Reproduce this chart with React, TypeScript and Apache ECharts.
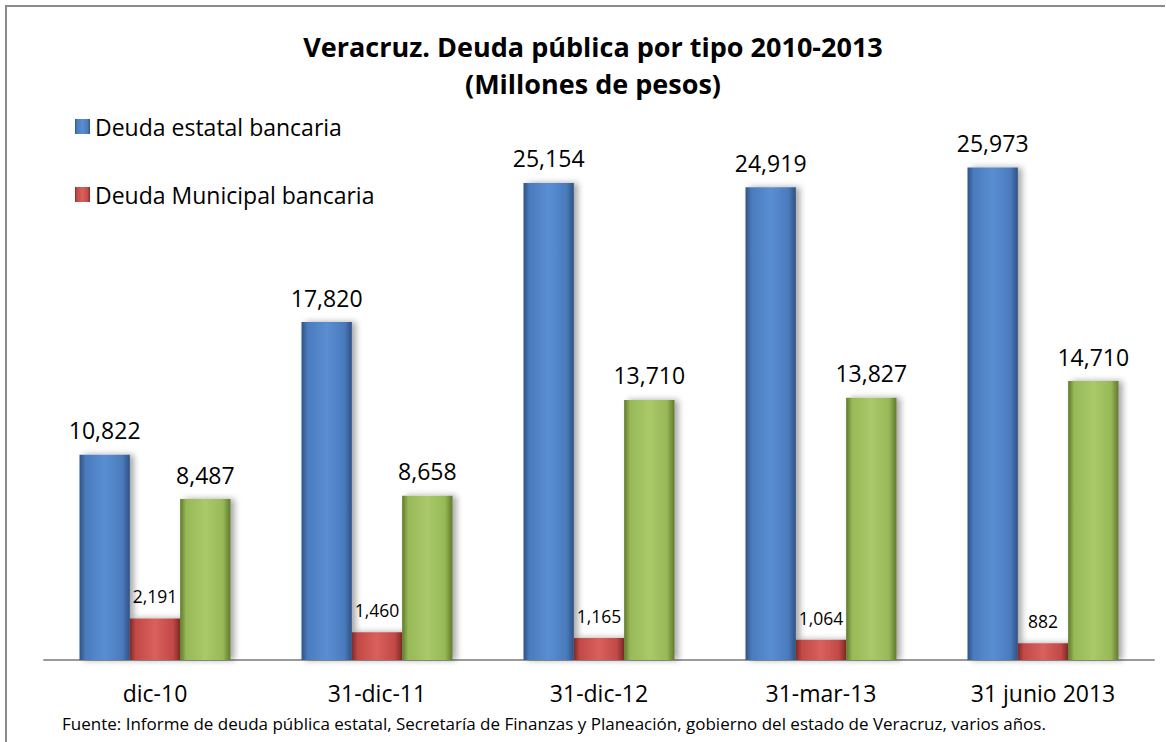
import React, { useEffect, useRef } from "react";
import * as echarts from "echarts";

const categories = ["dic-10", "31-dic-11", "31-dic-12", "31-mar-13", "31 junio 2013"];
const estatal = [10822, 17820, 25154, 24919, 25973];
const municipal = [2191, 1460, 1165, 1064, 882];
const tercera = [8487, 8658, 13710, 13827, 14710];
const legendNames = ["Deuda estatal bancaria", "Deuda Municipal bancaria"];

const FONT = "'Open Sans', 'Noto Sans', sans-serif";

function bevel(dark: string, mid: string, light: string) {
  return new echarts.graphic.LinearGradient(0, 0, 1, 0, [
    { offset: 0, color: dark },
    { offset: 0.12, color: mid },
    { offset: 0.5, color: light },
    { offset: 0.85, color: mid },
    { offset: 1, color: dark },
  ]);
}

export default function App() {
  const ref = useRef<HTMLDivElement>(null);
  useEffect(() => {
    document.body.style.margin = "0";
    const chart = echarts.init(ref.current!, null, { renderer: "svg" });
    const labelBig = {
      show: true,
      position: "top" as const,
      distance: 13,
      fontSize: 23,
      color: "#000",
      fontFamily: FONT,
      formatter: (p: any) => Number(p.value).toLocaleString("en-US"),
    };
    const labelSmall = { ...labelBig, fontSize: 17.5, distance: 13 };
    const shadow = {
      shadowColor: "rgba(0,0,0,0.35)",
      shadowBlur: 6,
      shadowOffsetX: 4,
      shadowOffsetY: 0,
    };
    chart.setOption({
      animation: false,
      backgroundColor: "#fff",
      title: {
        text: "Veracruz. Deuda pública por tipo 2010-2013\n(Millones de pesos)",
        left: 588,
        top: 23,
        textAlign: "center",
        textStyle: {
          fontFamily: FONT,
          fontSize: 27,
          fontWeight: "bold",
          color: "#000",
          lineHeight: 37,
        },
      },
      legend: {
        data: legendNames,
        orient: "vertical",
        left: 70,
        top: 110,
        itemGap: 45,
        itemWidth: 15,
        itemHeight: 15,
        icon: "rect",
        textStyle: { fontFamily: FONT, fontSize: 23, color: "#000" },
      },
      grid: { left: 44, right: 12, top: 91, bottom: 82, containLabel: false },
      xAxis: {
        type: "category",
        data: categories,
        axisTick: { show: false },
        axisLine: { lineStyle: { color: "#9a9a9a", width: 2 } },
        axisLabel: { fontFamily: FONT, fontSize: 23, color: "#000", margin: 21 },
      },
      yAxis: {
        type: "value",
        min: 0,
        max: 30000,
        show: false,
        splitLine: { show: false },
      },
      series: [
        {
          name: legendNames[0],
          type: "bar",
          data: estatal,
          barGap: "0%",
          barCategoryGap: "32%",
          itemStyle: { color: bevel("#2f5283", "#4a7bbd", "#5a8ed3"), ...shadow },
          label: labelBig,
        },
        {
          name: legendNames[1],
          type: "bar",
          data: municipal,
          itemStyle: { color: bevel("#7e2a28", "#c24a47", "#d9605c"), ...shadow },
          label: labelSmall,
        },
        {
          name: "Deuda total",
          type: "bar",
          data: tercera,
          itemStyle: { color: bevel("#5f7a2c", "#98b957", "#a9c96a"), ...shadow },
          label: labelBig,
        },
      ],
      graphic: [
        { type: "line", shape: { x1: 5, y1: 6, x2: 1165, y2: 6 }, style: { stroke: "#8a8a8a", lineWidth: 2 } },
        { type: "line", shape: { x1: 6, y1: 5, x2: 6, y2: 742 }, style: { stroke: "#8a8a8a", lineWidth: 2 } },
        {
          type: "text",
          left: 62,
          top: 715,
          style: {
            text: "Fuente: Informe de deuda pública estatal, Secretaría de Finanzas y Planeación, gobierno del estado de Veracruz, varios años.",
            fontFamily: FONT,
            fontSize: 17,
            fill: "#000",
          },
        },
      ],
    });
    return () => chart.dispose();
  }, []);
  return <div ref={ref} style={{ width: 1166, height: 742 }} />;
}
